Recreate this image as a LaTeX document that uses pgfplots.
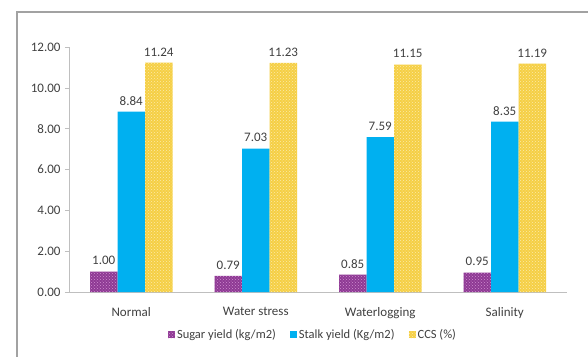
\documentclass[border=0pt]{standalone}
\usepackage{pgfplots}
\pgfplotsset{compat=1.18}
\usepackage{fontspec}
\setmainfont{Carlito}
\usetikzlibrary{patterns}
\definecolor{cpurple}{HTML}{8E3A94}
\definecolor{cpurpledot}{HTML}{D08CD0}
\definecolor{cblue}{HTML}{00B0F0}
\definecolor{cyellow}{HTML}{F5CF45}
\definecolor{cyellowdot}{HTML}{FCEBA8}
\definecolor{axgray}{HTML}{BFBFBF}
\definecolor{txt}{HTML}{404040}
\begin{document}
\begin{tikzpicture}
\begin{axis}[
  scale only axis,
  width=498pt, height=244.8pt,
  ymin=0, ymax=12,
  xmin=-0.5, xmax=3.5,
  ybar=0pt, bar width=27.5pt,
  ytick={0,2,4,6,8,10,12},
  xtick={0,1,2,3},
  xticklabels={Normal,Water stress,Waterlogging,Salinity},
  extra x ticks={-0.5,0.5,1.5,2.5,3.5},
  extra x tick labels={},
  extra x tick style={major tick length=4pt, tick style={axgray, line width=0.8pt}},
  x tick style={draw=none},
  y tick style={axgray, line width=0.8pt},
  major tick length=4pt,
  tick align=outside,
  axis x line*=bottom,
  axis y line*=left,
  axis line style={axgray, line width=0.8pt},
  separate axis lines,
  y axis line style={-},
  x axis line style={-},
  /pgf/number format/assume math mode=true,
  yticklabel style={/pgf/number format/fixed, /pgf/number format/fixed zerofill, /pgf/number format/precision=2, xshift=-1pt},
  ticklabel style={font=\fontsize{13}{15}\selectfont, text=txt},
  xticklabel style={yshift=-8pt},
  nodes near coords,
  nodes near coords style={font=\fontsize{13}{15}\selectfont, text=txt, /pgf/number format/fixed, /pgf/number format/fixed zerofill, /pgf/number format/precision=2, /pgf/number format/assume math mode=true, yshift=3pt},
  legend style={at={(0.49,-0.175)}, anchor=center, draw=none, legend columns=-1,
    font=\fontsize{12.5}{14}\selectfont, text=txt,
    /tikz/every even column/.append style={column sep=12pt}},
  legend image code/.code={\fill[#1] (0pt,-3.5pt) rectangle (7pt,3.5pt);},
]
\addplot[draw=none, fill=cpurple, postaction={pattern=crosshatch dots, pattern color=cpurpledot}] coordinates {(0,1.00) (1,0.79) (2,0.85) (3,0.95)};
\addplot[draw=none, fill=cblue] coordinates {(0,8.84) (1,7.03) (2,7.59) (3,8.35)};
\addplot[draw=none, fill=cyellow, postaction={pattern=crosshatch dots, pattern color=cyellowdot}] coordinates {(0,11.24) (1,11.23) (2,11.15) (3,11.19)};
\legend{Sugar yield (kg/m2),Stalk yield (Kg/m2),CCS (\%)}
\end{axis}
\draw[color=axgray!85!black, line width=1.3pt] (-52pt,-70pt) -- (-52pt,280pt) -- (530pt,280pt);
\pgfresetboundingbox
\path[use as bounding box] (-69pt,-64pt) rectangle (519pt,292pt);
\end{tikzpicture}
\end{document}
